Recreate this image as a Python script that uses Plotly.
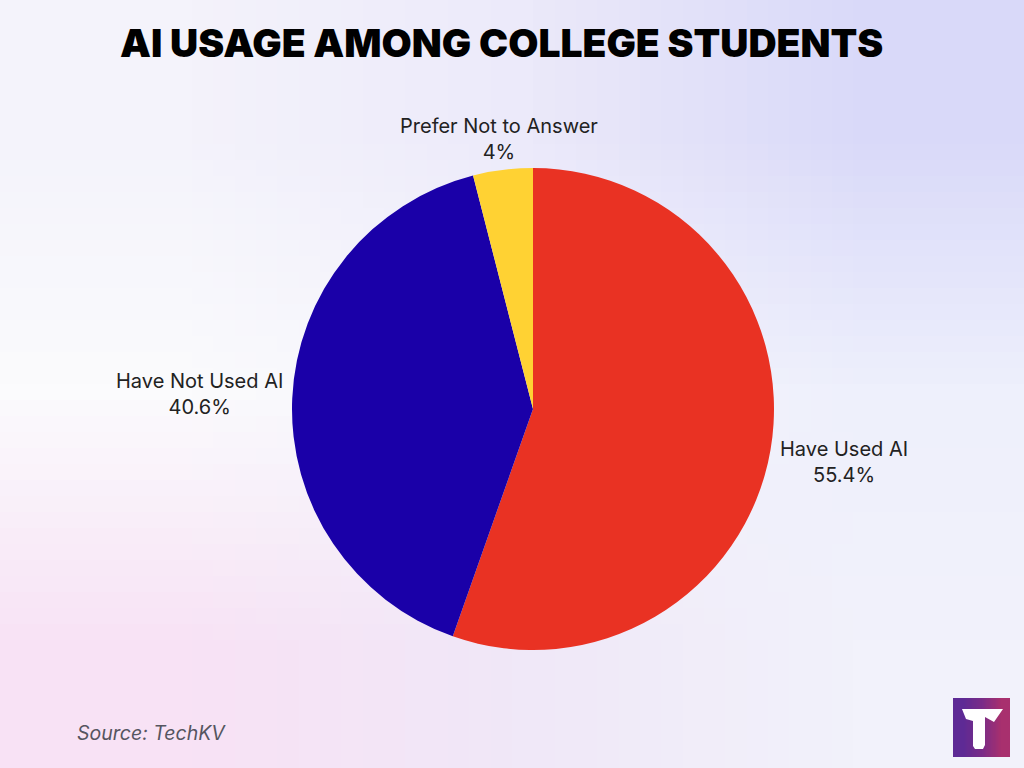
import base64, struct, zlib, math
import plotly.graph_objects as go

labels = ["Have Used AI", "Have Not Used AI", "Prefer Not to Answer"]
values = [55.4, 40.6, 4]
colors = ["#E93223", "#1A00A8", "#FFD233"]

W, H = 1024, 768
CX, CY, R = 533, 409, 241          # pie centre / radius in px
label_dist = [316, 334, 272]        # label-centre distance from pie centre, px


def make_png(rows):
    h = len(rows)
    w = len(rows[0])
    raw = b"".join(b"\x00" + bytes([c for px in row for c in px]) for row in rows)

    def chunk(tag, data):
        return struct.pack(">I", len(data)) + tag + data + struct.pack(">I", zlib.crc32(tag + data) & 0xFFFFFFFF)

    png = b"\x89PNG\r\n\x1a\n"
    png += chunk(b"IHDR", struct.pack(">IIBBBBB", w, h, 8, 2, 0, 0, 0))
    png += chunk(b"IDAT", zlib.compress(raw, 9))
    png += chunk(b"IEND", b"")
    return "data:image/png;base64," + base64.b64encode(png).decode()


def hx(s):
    s = s.lstrip("#")
    return tuple(int(s[i:i + 2], 16) for i in (0, 2, 4))


def px(x):
    return x / W


def py(y):
    return 1 - y / H


bg_rows = [
    [hx("#F4F3FB"), hx("#ECEAFA"), hx("#D9D9F9")],
    [hx("#FBFBFD"), hx("#F6F6FC"), hx("#EEF0FC")],
    [hx("#F8E2F5"), hx("#F0E8F8"), hx("#F2F2FB")],
]
logo_rows = [[hx("#5E2A95"), hx("#7A2C88"), hx("#A8306E")]]

fig = go.Figure()
fig.add_trace(go.Pie(
    labels=labels,
    values=values,
    marker=dict(colors=colors, line=dict(width=0)),
    sort=False,
    direction="clockwise",
    rotation=0,
    textinfo="none",
    hoverinfo="label+percent",
    showlegend=False,
    domain=dict(x=[px(CX - R), px(CX + R)], y=[py(CY + R), py(CY - R)]),
))

# outside labels, placed along each slice's mid-angle
total = sum(values)
annotations = []
cum = 0
for lab, val, d in zip(labels, values, label_dist):
    mid = (cum + val / 2) / total * 2 * math.pi
    cum += val
    lx = CX + d * math.sin(mid)
    ly = CY - d * math.cos(mid)
    annotations.append(dict(
        text=f"{lab}<br>{val:g}%", x=px(lx), y=py(ly), xref="paper", yref="paper",
        xanchor="center", yanchor="middle", showarrow=False, align="center",
        font=dict(family="Inter", size=20, color="#222222"),
    ))

annotations += [
    dict(text="AI USAGE AMONG COLLEGE STUDENTS", x=px(501), y=py(42), xref="paper", yref="paper",
         xanchor="center", yanchor="middle", showarrow=False,
         font=dict(family="Inter", size=39, color="#000000", weight=900)),
    dict(text="Source: TechKV", x=px(75), y=py(733), xref="paper", yref="paper",
         xanchor="left", yanchor="middle", showarrow=False,
         font=dict(family="Inter", size=19.5, color="#555560", style="italic")),
]

# logo T path
pts = [(962, 709), (1003, 709), (994, 722), (985, 717), (985, 745), (983, 749), (975, 749), (973, 746), (973, 721), (966, 719)]
path = "M " + " L ".join(f"{px(x):.5f},{py(y):.5f}" for x, y in pts) + " Z"

fig.update_layout(
    width=W, height=H,
    margin=dict(l=0, r=0, t=0, b=0),
    paper_bgcolor="#F5F5FC",
    plot_bgcolor="rgba(0,0,0,0)",
    images=[
        dict(source=make_png(bg_rows), xref="paper", yref="paper", x=0, y=1, sizex=1, sizey=1,
             xanchor="left", yanchor="top", sizing="stretch", layer="below"),
        dict(source=make_png(logo_rows), xref="paper", yref="paper", x=px(953), y=py(698),
             sizex=px(1010) - px(953), sizey=py(698) - py(757),
             xanchor="left", yanchor="top", sizing="stretch", layer="above"),
    ],
    shapes=[
        dict(type="path", path=path, xref="paper", yref="paper", fillcolor="white", line=dict(width=0), layer="above"),
    ],
    annotations=annotations,
)

fig.write_html("out.html", config={"displayModeBar": False},
               post_script="document.body.style.margin='0';document.body.style.padding='0';")
